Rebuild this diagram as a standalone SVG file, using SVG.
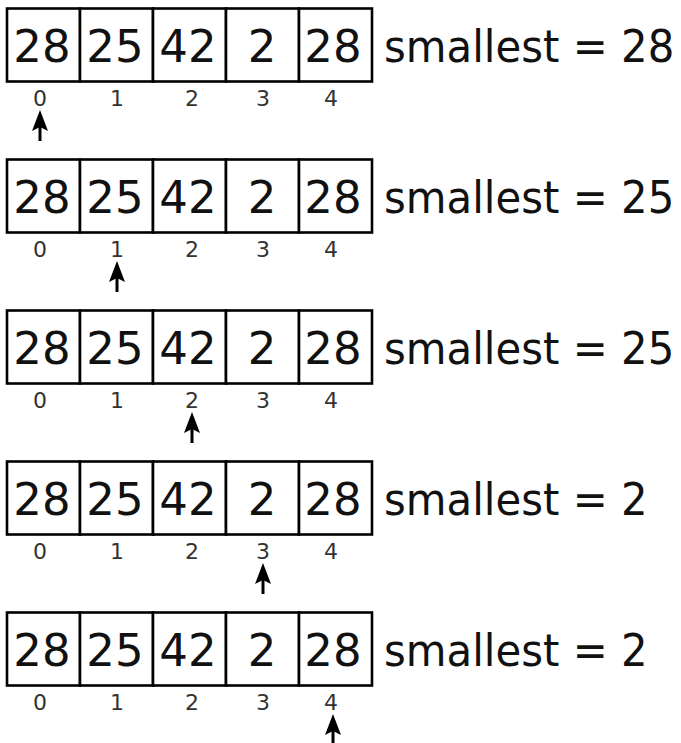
<svg xmlns="http://www.w3.org/2000/svg" xmlns:xlink="http://www.w3.org/1999/xlink" width="681" height="743" viewBox="0 0 681 743">
<style>
.cell{fill:#fff;stroke:#000;stroke-width:2.6}
.val{font-family:"DejaVu Sans",sans-serif;font-size:45px;fill:#111;text-anchor:middle}
.idx{font-family:"DejaVu Sans",sans-serif;font-size:22px;fill:#333;text-anchor:middle}
.lbl{font-family:"DejaVu Sans",sans-serif;font-size:45px;fill:#111}
.shaft{stroke:#000;stroke-width:3}
</style>
<defs>
<g id="arrow"><line class="shaft" x1="0" y1="14" x2="0" y2="31"/><path d="M0,0 L8,21 L0,17 L-8,21 Z" fill="#000"/></g>
</defs>
<rect width="681" height="743" fill="#fff"/>
<g id="row0" transform="translate(0,8.5)">
<rect class="cell" x="7" y="0" width="73" height="73"/><rect class="cell" x="80" y="0" width="73" height="73"/><rect class="cell" x="153" y="0" width="73" height="73"/><rect class="cell" x="226" y="0" width="73" height="73"/><rect class="cell" x="299" y="0" width="73" height="73"/>
<text class="val" x="42" y="53">28</text><text class="val" x="115" y="53">25</text><text class="val" x="188" y="53">42</text><text class="val" x="262" y="53">2</text><text class="val" x="333" y="53">28</text>
<text class="idx" x="40" y="97">0</text><text class="idx" x="117" y="97">1</text><text class="idx" x="192" y="97">2</text><text class="idx" x="263" y="97">3</text><text class="idx" x="331" y="97">4</text>
<text class="lbl" transform="translate(384,53) scale(0.93,1)">smallest = 28</text>
</g>
<g id="row1" transform="translate(0,159.5)">
<rect class="cell" x="7" y="0" width="73" height="73"/><rect class="cell" x="80" y="0" width="73" height="73"/><rect class="cell" x="153" y="0" width="73" height="73"/><rect class="cell" x="226" y="0" width="73" height="73"/><rect class="cell" x="299" y="0" width="73" height="73"/>
<text class="val" x="42" y="53">28</text><text class="val" x="115" y="53">25</text><text class="val" x="188" y="53">42</text><text class="val" x="262" y="53">2</text><text class="val" x="333" y="53">28</text>
<text class="idx" x="40" y="97">0</text><text class="idx" x="117" y="97">1</text><text class="idx" x="192" y="97">2</text><text class="idx" x="263" y="97">3</text><text class="idx" x="331" y="97">4</text>
<text class="lbl" transform="translate(384,53) scale(0.93,1)">smallest = 25</text>
</g>
<g id="row2" transform="translate(0,310.5)">
<rect class="cell" x="7" y="0" width="73" height="73"/><rect class="cell" x="80" y="0" width="73" height="73"/><rect class="cell" x="153" y="0" width="73" height="73"/><rect class="cell" x="226" y="0" width="73" height="73"/><rect class="cell" x="299" y="0" width="73" height="73"/>
<text class="val" x="42" y="53">28</text><text class="val" x="115" y="53">25</text><text class="val" x="188" y="53">42</text><text class="val" x="262" y="53">2</text><text class="val" x="333" y="53">28</text>
<text class="idx" x="40" y="97">0</text><text class="idx" x="117" y="97">1</text><text class="idx" x="192" y="97">2</text><text class="idx" x="263" y="97">3</text><text class="idx" x="331" y="97">4</text>
<text class="lbl" transform="translate(384,53) scale(0.93,1)">smallest = 25</text>
</g>
<g id="row3" transform="translate(0,461.5)">
<rect class="cell" x="7" y="0" width="73" height="73"/><rect class="cell" x="80" y="0" width="73" height="73"/><rect class="cell" x="153" y="0" width="73" height="73"/><rect class="cell" x="226" y="0" width="73" height="73"/><rect class="cell" x="299" y="0" width="73" height="73"/>
<text class="val" x="42" y="53">28</text><text class="val" x="115" y="53">25</text><text class="val" x="188" y="53">42</text><text class="val" x="262" y="53">2</text><text class="val" x="333" y="53">28</text>
<text class="idx" x="40" y="97">0</text><text class="idx" x="117" y="97">1</text><text class="idx" x="192" y="97">2</text><text class="idx" x="263" y="97">3</text><text class="idx" x="331" y="97">4</text>
<text class="lbl" transform="translate(384,53) scale(0.93,1)">smallest = 2</text>
</g>
<g id="row4" transform="translate(0,612.5)">
<rect class="cell" x="7" y="0" width="73" height="73"/><rect class="cell" x="80" y="0" width="73" height="73"/><rect class="cell" x="153" y="0" width="73" height="73"/><rect class="cell" x="226" y="0" width="73" height="73"/><rect class="cell" x="299" y="0" width="73" height="73"/>
<text class="val" x="42" y="53">28</text><text class="val" x="115" y="53">25</text><text class="val" x="188" y="53">42</text><text class="val" x="262" y="53">2</text><text class="val" x="333" y="53">28</text>
<text class="idx" x="40" y="97">0</text><text class="idx" x="117" y="97">1</text><text class="idx" x="192" y="97">2</text><text class="idx" x="263" y="97">3</text><text class="idx" x="331" y="97">4</text>
<text class="lbl" transform="translate(384,53) scale(0.93,1)">smallest = 2</text>
</g>
<g id="connectors">
<use xlink:href="#arrow" x="40" y="110"/>
<use xlink:href="#arrow" x="117" y="261"/>
<use xlink:href="#arrow" x="192" y="412"/>
<use xlink:href="#arrow" x="263" y="563"/>
<use xlink:href="#arrow" x="333" y="714"/>
</g>
</svg>
